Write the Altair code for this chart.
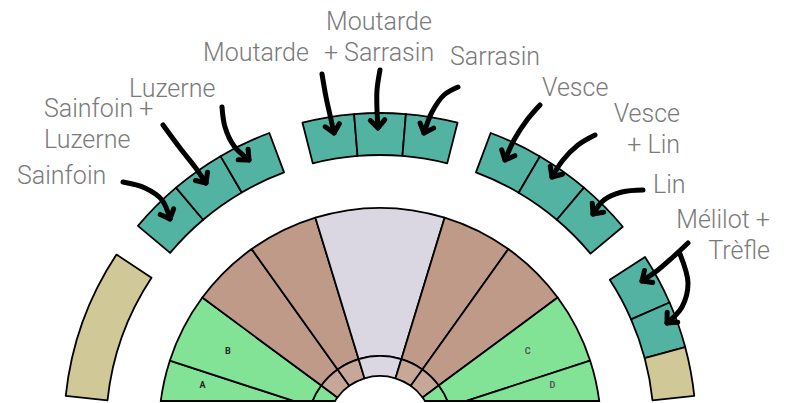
import math
import altair as alt
import pandas as pd

# ---------------- data ----------------
# inner half-disc wedges: (start angle, end angle, fill) ; angles in degrees from north, clockwise
wedge_start = [-90, -72, -53.5, -35.5, -17, 17, 35.5, 53.5, 72]
wedge_end = [-72, -53.5, -35.5, -17, 17, 35.5, 53.5, 72, 90]
wedge_fill = ["#82e397", "#82e397", "#bf9a89", "#bf9a89", "#dad7e2",
              "#bf9a89", "#bf9a89", "#82e397", "#82e397"]
ring_fill = ["#82e397", "#82e397", "#c7a898", "#c7a898", "#dad7e2",
             "#c7a898", "#c7a898", "#82e397", "#82e397"]

# small letters inside the green wedges
letter_text = ["A", "B", "C", "D"]
letter_angle = [-76, -62.8, 62.2, 75.7]
letter_radius = [183, 171, 167, 178]
letter_color = ["#222222", "#222222", "#555555", "#555555"]

# outer ring cells
cell_start = [-84, -50, -40.2, -30.3, -14.2, -4.7, 4.7, 20.5, 30.4, 40.2, 57, 66.4, 75]
cell_end = [-56.5, -40.2, -30.3, -20.5, -4.7, 4.7, 14.2, 30.4, 40.2, 50.2, 66.4, 75, 84]
cell_fill = ["#d0c896"] + ["#52b3a2"] * 11 + ["#d0c896"]

# labels
label_text = ["Sainfoin", "Sainfoin +\nLuzerne", "Luzerne", "Moutarde",
              "Moutarde\n+ Sarrasin", "Sarrasin", "Vesce", "Vesce\n+ Lin", "Lin",
              "Mélilot +\nTrèfle"]
label_x = [17, 44, 129, 203, 379, 450, 542, 680, 653, 770]
label_y = [184, 117, 97, 61, 30, 65, 96, 122, 193, 228]
label_align = ["left", "left", "left", "left", "center", "left", "left", "right", "left", "right"]

# arrows (hand-drawn curves), points from tail to tip
arrows = [
    [(123, 182), (145, 188), (162, 200), (170, 219)],
    [(163, 125), (180, 148), (195, 167), (206, 183)],
    [(222, 107), (225, 127), (234, 146), (249, 160)],
    [(322, 74), (326, 97), (330, 115), (334, 133)],
    [(380, 70), (377, 90), (377, 110), (378, 128)],
    [(458, 87), (444, 95), (432, 112), (424, 133)],
    [(540, 105), (527, 120), (514, 140), (505, 160)],
    [(595, 135), (578, 145), (563, 160), (552, 177)],
    [(643, 190), (622, 192), (604, 200), (593, 214)],
    [(688, 243), (673, 257), (658, 270), (642, 281)],
    [(680, 254), (688, 283), (682, 307), (667, 323)],
]

# ---------------- geometry ----------------
CX, CY = 380, 429
R_HOLE, R_RING, R_MAIN = 53, 73, 221
R_CELL_IN, R_CELL_OUT = 274, 316
CLIP_Y = 401

W, H = 773, 394
xs = alt.Scale(domain=[8, 8 + W], range=[0, W], nice=False, zero=False)
ys = alt.Scale(domain=[8, 8 + H], range=[0, H], nice=False, zero=False)
ts = alt.Scale(domain=[-180, 180], range=[-math.pi, math.pi], nice=False, zero=False)
rs = alt.Scale(type="linear", domain=[0, 400], range=[0, 400], nice=False, zero=True)

rows = []
for a, b, f, rf in zip(wedge_start, wedge_end, wedge_fill, ring_fill):
    rows.append(dict(t0=a, t1=b, r0=R_RING, r1=R_MAIN, fill=f))
    rows.append(dict(t0=a, t1=b, r0=R_HOLE, r1=R_RING, fill=rf))
for a, b, f in zip(cell_start, cell_end, cell_fill):
    rows.append(dict(t0=a, t1=b, r0=R_CELL_IN, r1=R_CELL_OUT, fill=f))
seg_df = pd.DataFrame(rows)
seg_df["cx"] = CX
seg_df["cy"] = CY

arcs = alt.Chart(seg_df).mark_arc(
    stroke="black", strokeWidth=1.8, strokeJoin="round", clip=True
).encode(
    x=alt.X("cx:Q", scale=xs, axis=None),
    y=alt.Y("cy:Q", scale=ys, axis=None),
    theta=alt.Theta("t0:Q", scale=ts, stack=None),
    theta2="t1:Q",
    radius=alt.Radius("r1:Q", scale=rs),
    radius2="r0:Q",
    color=alt.Color("fill:N", scale=None),
)

# bottom closing line of the half-disc
dy = CY - CLIP_Y
xm = math.sqrt(R_MAIN ** 2 - dy ** 2)
xh = math.sqrt(R_HOLE ** 2 - dy ** 2)
rule_df = pd.DataFrame(dict(x0=[CX - xm, CX + xh], x1=[CX - xh, CX + xm], y=[CLIP_Y, CLIP_Y]))
rule = alt.Chart(rule_df).mark_rule(color="black", strokeWidth=2).encode(
    x=alt.X("x0:Q", scale=xs, axis=None), x2="x1:Q", y=alt.Y("y:Q", scale=ys, axis=None)
)

# small wedge letters
let_rows = []
for l, a, rr, c in zip(letter_text, letter_angle, letter_radius, letter_color):
    m = math.radians(a)
    let_rows.append(dict(x=CX + rr * math.sin(m), y=CY - rr * math.cos(m), t=l, c=c))
let_df = pd.DataFrame(let_rows)
letters = alt.Chart(let_df).mark_text(fontSize=9, font="Roboto", fontWeight="bold").encode(
    x=alt.X("x:Q", scale=xs, axis=None), y=alt.Y("y:Q", scale=ys, axis=None), text="t:N",
    color=alt.Color("c:N", scale=None),
)

# arrows
arr_rows, head_rows = [], []
for k, pts in enumerate(arrows):
    for i, (px, py) in enumerate(pts):
        arr_rows.append(dict(id=k, i=i, x=px, y=py))
    (x1, y1), (x2, y2) = pts[-2], pts[-1]
    head_rows.append(dict(x=x2, y=y2, ang=math.degrees(math.atan2(y2 - y1, x2 - x1))))
arr_df = pd.DataFrame(arr_rows)
head_df = pd.DataFrame(head_rows)

shafts = alt.Chart(arr_df).mark_line(
    color="black", strokeWidth=5, strokeCap="round", interpolate="catmull-rom"
).encode(
    x=alt.X("x:Q", scale=xs, axis=None),
    y=alt.Y("y:Q", scale=ys, axis=None),
    detail="id:N",
    order="i:Q",
)
heads = alt.Chart(head_df).mark_point(
    shape="M -1.1 -1 L 0 0 L -1.1 1", filled=False, stroke="black", strokeWidth=5,
    strokeCap="round", strokeJoin="round", size=210, opacity=1
).encode(
    x=alt.X("x:Q", scale=xs, axis=None),
    y=alt.Y("y:Q", scale=ys, axis=None),
    angle=alt.Angle("ang:Q", scale=None),
)

# labels
lab_df = pd.DataFrame(dict(t=label_text, x=label_x, y=label_y, al=label_align))
text_layers = []
for al in ["left", "center", "right"]:
    text_layers.append(
        alt.Chart(lab_df).transform_filter(alt.datum.al == al).mark_text(
            align=al, baseline="alphabetic", font="Roboto", fontWeight=300, fontSize=25,
            color="#7a7a7a", lineBreak="\n", lineHeight=31
        ).encode(
            x=alt.X("x:Q", scale=xs, axis=None),
            y=alt.Y("y:Q", scale=ys, axis=None),
            text="t:N",
        )
    )

chart = alt.layer(arcs, rule, letters, shafts, heads, *text_layers).properties(
    width=W, height=H, autosize=alt.AutoSizeParams(type="none"), padding=0
).configure_view(strokeWidth=0)

chart.save("out.html", embed_options={"renderer": "svg", "actions": False})
